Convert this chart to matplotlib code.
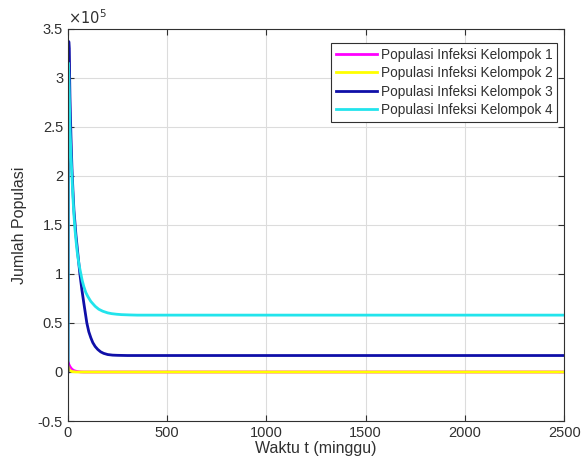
import numpy as np
import matplotlib
matplotlib.use('Agg')
import matplotlib.pyplot as plt
from matplotlib.ticker import FixedLocator, FixedFormatter

# ------------------------------------
# Datos (valores en unidades de 1e5)
# ------------------------------------
t_k1 = [0, 5, 10, 15, 20, 30, 40, 50, 65, 80, 2500]
k1 = [0.10, 0.075, 0.055, 0.04, 0.028, 0.014, 0.008, 0.004, 0.001, 0.0, 0.0]

t_k2 = [0, 5, 10, 20, 40, 2500]
k2 = [0.06, 0.03, 0.015, 0.005, 0.0, 0.0]

t_k3 = [0, 2, 4, 6, 10, 15, 20, 25, 30, 40, 50, 60, 70, 80, 95, 105, 115, 125, 137,
        150, 165, 180, 200, 225, 250, 300, 2500]
k3 = [0.0, 2.0, 3.37, 3.3, 2.8, 2.4, 2.08, 1.85, 1.65, 1.4, 1.2, 1.0, 0.84, 0.7,
      0.5, 0.41, 0.35, 0.3, 0.26, 0.23, 0.205, 0.19, 0.178, 0.172, 0.17, 0.168, 0.168]

t_k4 = [0, 1, 3, 6, 10, 15, 20, 25, 30, 35, 40, 45, 50, 57, 65, 72, 80, 90, 100, 115,
        137, 155, 175, 200, 220, 245, 270, 310, 350, 2500]
k4 = [0.12, 1.5, 3.15, 2.9, 2.5, 2.22, 2.0, 1.78, 1.6, 1.46, 1.35, 1.25, 1.17, 1.08,
      1.0, 0.93, 0.87, 0.81, 0.77, 0.72, 0.67, 0.64, 0.62, 0.603, 0.595, 0.589, 0.585,
      0.582, 0.58, 0.58]

etiquetas = ['Populasi Infeksi Kelompok 1', 'Populasi Infeksi Kelompok 2',
             'Populasi Infeksi Kelompok 3', 'Populasi Infeksi Kelompok 4']
colores = ['#FF00FF', '#FFFF00', '#0F0FA8', '#22E4EC']

xticks = [0, 500, 1000, 1500, 2000, 2500]
yticks = [-0.5, 0, 0.5, 1, 1.5, 2, 2.5, 3, 3.5]
ytick_labels = ['-0.5', '0', '0.5', '1', '1.5', '2', '2.5', '3', '3.5']

# ------------------------------------
# Graficar
# ------------------------------------
plt.rcParams['font.family'] = ['Liberation Sans', 'DejaVu Sans']
gris = '#303030'

fig = plt.figure(figsize=(5.81, 4.72), dpi=100)
ax = fig.add_axes([0.117, 0.108, 0.854, 0.831])

series = [(t_k1, k1), (t_k2, k2), (t_k3, k3), (t_k4, k4)]
for (t, y), lab, c in zip(series, etiquetas, colores):
    ax.plot(t, np.array(y) * 1e5, color=c, linewidth=2, label=lab)

ax.set_xlim(0, 2500)
ax.set_ylim(-0.5e5, 3.5e5)
ax.xaxis.set_major_locator(FixedLocator(xticks))
ax.yaxis.set_major_locator(FixedLocator([v * 1e5 for v in yticks]))
ax.yaxis.set_major_formatter(FixedFormatter(ytick_labels))

ax.grid(True, color='#DCDCDC', linewidth=0.8)
ax.set_axisbelow(True)
ax.tick_params(direction='in', top=True, right=True, colors=gris,
               labelsize=10.5, length=4, width=0.8)
for s in ax.spines.values():
    s.set_color(gris)
    s.set_linewidth(0.8)

ax.text(0.0, 1.005, r'$\times10^{5}$', transform=ax.transAxes, fontsize=10.5,
        color=gris, ha='left', va='bottom')

ax.set_xlabel('Waktu t (minggu)', fontsize=11.5, color=gris, labelpad=1)
ax.set_ylabel('Jumlah Populasi', fontsize=11.5, color=gris, labelpad=8)

leg = ax.legend(loc='upper right', bbox_to_anchor=(0.986, 0.964), fontsize=9.8,
                fancybox=False, framealpha=1, edgecolor=gris, handlelength=3.0,
                borderpad=0.35, labelspacing=0.33, handletextpad=0.3,
                borderaxespad=0)
leg.get_frame().set_linewidth(0.8)
for txt in leg.get_texts():
    txt.set_color(gris)

plt.savefig('out.png', dpi=100)
